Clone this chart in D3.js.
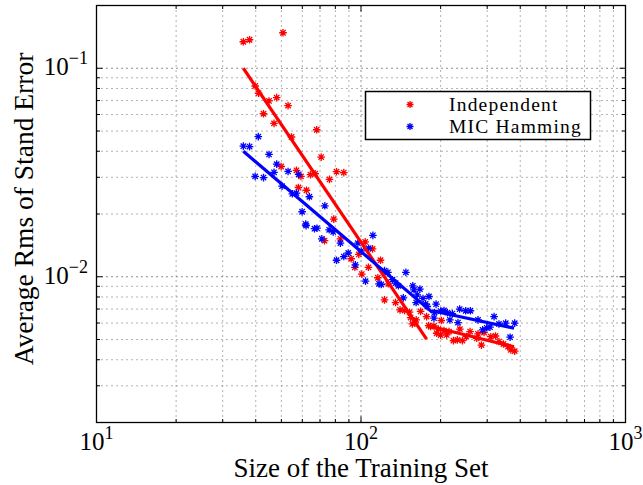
<!DOCTYPE html>
<html>
<head>
<meta charset="utf-8">
<script src="https://cdn.jsdelivr.net/npm/d3@7/dist/d3.min.js"></script>
<style>
  html, body { margin: 0; padding: 0; background: #fff; }
  svg { display: block; }
  text { font-family: "Liberation Serif", "DejaVu Serif", serif; fill: #000; }
</style>
</head>
<body>
<svg id="chart" width="643" height="485"></svg>
<script>
// Training-set size (x) and average RMS of standard error (y), per method
const independentN = [35.9, 37.9, 50.7, 39.8, 41.0, 44.9, 48.0, 53.0, 42.8, 46.9, 68.0, 54.6, 70.7, 49.9, 57.0,
  59.3, 64.4, 67.1, 76.0, 80.8, 86.1, 58.0, 62.2, 78.9, 72.8, 83.6, 103.7, 110.6, 98.1, 91.8,
  118.5, 94.8, 106.7, 100.7, 115.8, 126.8, 122.7, 135.1, 140.5, 146.2, 152.6, 154.0, 159.9, 168.0, 180.2,
  177.0, 161.7, 156.3, 183.3, 188.7, 196.0, 201.2, 206.0, 215.1, 193.2, 200.0, 210.8, 223.5, 231.3, 241.8,
  250.2, 258.4, 236.5, 276.9, 291.9, 273.8, 285.3, 309.5, 322.4, 332.4, 345.6, 359.6, 368.5, 381.2];
const independentErr = [0.134, 0.137, 0.148, 0.0822, 0.0759, 0.0697, 0.0723, 0.0662, 0.0605, 0.0544, 0.0507, 0.0468, 0.0375, 0.0338, 0.0324,
  0.0303, 0.0309, 0.0312, 0.0293, 0.0319, 0.0316, 0.0268, 0.0260, 0.0189, 0.0149, 0.0152, 0.0147, 0.0136, 0.0128, 0.0122,
  0.0120, 0.0111, 0.0111, 0.0103, 0.00989, 0.00925, 0.00775, 0.00752, 0.00694, 0.00689, 0.00676, 0.00637, 0.00599, 0.00682, 0.00583,
  0.00644, 0.00621, 0.00594, 0.00577, 0.00581, 0.00561, 0.00617, 0.00552, 0.00546, 0.00536, 0.00525, 0.00526, 0.00494, 0.00498, 0.00494,
  0.00516, 0.00546, 0.00561, 0.00532, 0.00540, 0.00507, 0.00470, 0.00516, 0.00520, 0.00489, 0.00476, 0.00462, 0.00446, 0.00440];

const hammingN = [40.9, 35.9, 37.9, 44.9, 48.0, 39.8, 42.8, 46.9, 53.0, 58.1, 50.3, 55.0, 57.0, 63.8, 73.0,
  59.9, 61.8, 62.0, 66.7, 68.2, 75.8, 78.5, 71.1, 83.6, 110.9, 97.3, 100.2, 106.9, 89.5, 86.1,
  80.8, 95.2, 104.0, 122.7, 126.4, 147.8, 117.0, 119.3, 135.1, 138.5, 144.5, 158.5, 167.0, 163.2, 171.5,
  180.7, 161.6, 175.5, 178.1, 131.4, 157.0, 192.2, 189.8, 200.0, 206.0, 212.1, 221.5, 236.0, 248.8, 259.2,
  216.8, 232.6, 276.9, 288.4, 298.8, 307.4, 318.5, 332.4, 352.5, 381.2, 366.2, 188.7];
const hammingErr = [0.0470, 0.0423, 0.0421, 0.0386, 0.0347, 0.0303, 0.0299, 0.0317, 0.0320, 0.0310, 0.0272, 0.0250, 0.0252, 0.0242, 0.0219,
  0.0205, 0.0179, 0.0176, 0.0170, 0.0171, 0.0168, 0.0164, 0.0152, 0.0145, 0.0158, 0.0145, 0.0133, 0.0137, 0.0130, 0.0125,
  0.0120, 0.0114, 0.00953, 0.0107, 0.0105, 0.0105, 0.00925, 0.00918, 0.00933, 0.00905, 0.00792, 0.00866, 0.00873, 0.00819, 0.00787,
  0.00804, 0.00752, 0.00741, 0.00720, 0.00968, 0.00905, 0.00739, 0.00673, 0.00685, 0.00689, 0.00673, 0.00666, 0.00700, 0.00687, 0.00687,
  0.00621, 0.00603, 0.00621, 0.00556, 0.00569, 0.00573, 0.00644, 0.00594, 0.00599, 0.00599, 0.00513, 0.00633];

// Piecewise power-law fits: each segment is [[n0, err0], [n1, err1]]
const independentFit = [[[35.9, 0.100], [177, 0.00502]], [[181, 0.00581], [379, 0.00461]]];
const hammingFit = [[[35.9, 0.0400], [186, 0.00675]], [[186, 0.00687], [379, 0.00567]]];

const seriesNames = ["Independent", "MIC Hamming"];
const seriesColors = ["#ff0000", "#0000ff"];

const xDomain = [10, 1000];
const yDomain = [0.002, 0.2];
const xTickValues = [10, 100, 1000];
const xTickExps = ["1", "2", "3"];
const yTickValues = [0.1, 0.01];
const yTickExps = ["\u22121", "\u22122"];

const xLabel = "Size of the Training Set";
const yLabel = "Average Rms of Stand Error";

// ---- layout ----
const svg = d3.select("#chart");
const plot = { left: 96.5, right: 625.5, top: 5.5, bottom: 422.5 };

const x = d3.scaleLog().domain(xDomain).range([plot.left, plot.right]);
const y = d3.scaleLog().domain(yDomain).range([plot.bottom, plot.top]);

// every 1..9 multiple inside a log domain
function logSteps(domain) {
  const out = [];
  const lo = Math.floor(Math.log10(domain[0]));
  const hi = Math.ceil(Math.log10(domain[1]));
  for (let e = lo; e <= hi; e++) {
    for (let m = 1; m <= 9; m++) {
      const v = m * Math.pow(10, e);
      if (v >= domain[0] * 0.9999 && v <= domain[1] * 1.0001) out.push({ v, major: m === 1 });
    }
  }
  return out;
}
const xSteps = logSteps(xDomain);
const ySteps = logSteps(yDomain);

// ---- grid ----
const grid = svg.append("g");
grid.selectAll("line.gx").data(xSteps).join("line")
  .attr("x1", d => x(d.v)).attr("x2", d => x(d.v))
  .attr("y1", plot.top).attr("y2", plot.bottom)
  .attr("stroke", d => d.major ? "#222" : "#666")
  .attr("stroke-width", 1)
  .attr("stroke-dasharray", "1,4");
grid.selectAll("line.gy").data(ySteps).join("line")
  .attr("y1", d => y(d.v)).attr("y2", d => y(d.v))
  .attr("x1", plot.left).attr("x2", plot.right)
  .attr("stroke", d => d.major ? "#222" : "#666")
  .attr("stroke-width", 1)
  .attr("stroke-dasharray", "1,4");

// ---- markers ----
function asterisk(s) {
  const d = s * 0.7071;
  return `M${-s},0L${s},0M0,${-s}L0,${s}M${-d},${-d}L${d},${d}M${-d},${d}L${d},${-d}`;
}
function drawPoints(ns, errs, color) {
  svg.append("g").selectAll("path").data(ns.map((n, i) => [n, errs[i]])).join("path")
    .attr("transform", d => `translate(${x(d[0])},${y(d[1])})`)
    .attr("d", asterisk(3.8))
    .attr("stroke", color)
    .attr("stroke-width", 1.3)
    .attr("fill", "none");
}
drawPoints(independentN, independentErr, seriesColors[0]);
drawPoints(hammingN, hammingErr, seriesColors[1]);

// ---- fitted lines ----
const line = d3.line().x(d => x(d[0])).y(d => y(d[1]));
function drawFit(segments, color) {
  svg.append("g").selectAll("path").data(segments).join("path")
    .attr("d", line)
    .attr("stroke", color)
    .attr("stroke-width", 3.2)
    .attr("fill", "none");
}
drawFit(independentFit, seriesColors[0]);
drawFit(hammingFit, seriesColors[1]);

// ---- frame and ticks ----
const frame = svg.append("g");
frame.append("rect")
  .attr("x", plot.left).attr("y", plot.top)
  .attr("width", plot.right - plot.left).attr("height", plot.bottom - plot.top)
  .attr("fill", "none").attr("stroke", "#000").attr("stroke-width", 1.3);

const tickLen = d => d.major ? 6 : 3.5;
xSteps.forEach(d => {
  frame.append("line").attr("x1", x(d.v)).attr("x2", x(d.v))
    .attr("y1", plot.bottom).attr("y2", plot.bottom - tickLen(d)).attr("stroke", "#000");
  frame.append("line").attr("x1", x(d.v)).attr("x2", x(d.v))
    .attr("y1", plot.top).attr("y2", plot.top + tickLen(d)).attr("stroke", "#000");
});
ySteps.forEach(d => {
  frame.append("line").attr("y1", y(d.v)).attr("y2", y(d.v))
    .attr("x1", plot.left).attr("x2", plot.left + tickLen(d)).attr("stroke", "#000");
  frame.append("line").attr("y1", y(d.v)).attr("y2", y(d.v))
    .attr("x1", plot.right).attr("x2", plot.right - tickLen(d)).attr("stroke", "#000");
});

// ---- tick labels (powers of ten) ----
const tickFont = 25;
xTickValues.forEach((v, i) => {
  const t = svg.append("text")
    .attr("x", x(v)).attr("y", 450)
    .attr("text-anchor", "middle")
    .attr("font-size", tickFont);
  t.append("tspan").text("10");
  t.append("tspan").attr("dy", -11).attr("font-size", 18).text(xTickExps[i]);
});
yTickValues.forEach((v, i) => {
  const t = svg.append("text")
    .attr("x", 88).attr("y", y(v) + 7)
    .attr("text-anchor", "end")
    .attr("font-size", tickFont);
  t.append("tspan").text("10");
  t.append("tspan").attr("dy", -11).attr("font-size", 18).text(yTickExps[i]);
});

// ---- axis titles ----
svg.append("text")
  .attr("x", x(100)).attr("y", 477)
  .attr("text-anchor", "middle")
  .attr("font-size", 27)
  .text(xLabel);
svg.append("text")
  .attr("transform", `translate(33,${(plot.top + plot.bottom) / 2 - 5}) rotate(-90)`)
  .attr("text-anchor", "middle")
  .attr("font-size", 27.5)
  .text(yLabel);

// ---- legend ----
const legend = svg.append("g");
legend.append("rect")
  .attr("x", 365.5).attr("y", 91.5).attr("width", 225).attr("height", 48)
  .attr("fill", "#fff").attr("stroke", "#000").attr("stroke-width", 1.5);
seriesNames.forEach((name, i) => {
  const cy = 104.5 + i * 22;
  legend.append("path")
    .attr("transform", `translate(410,${cy})`)
    .attr("d", asterisk(3.5))
    .attr("stroke", seriesColors[i]).attr("stroke-width", 1.3).attr("fill", "none");
  legend.append("text")
    .attr("x", 449).attr("y", cy + 6.5)
    .attr("font-size", 19.5)
    .attr("letter-spacing", 1.2)
    .text(name);
});
</script>
</body>
</html>
